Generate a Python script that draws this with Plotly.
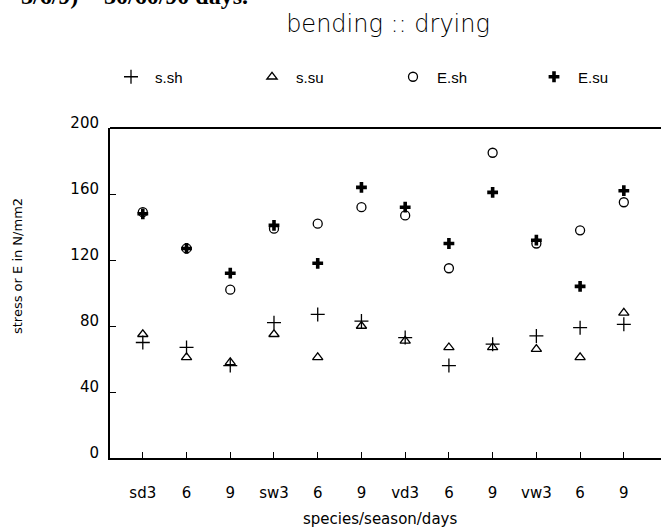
import plotly.graph_objects as go

categories = ["sd3", "6", "9", "sw3", "6 ", "9 ", "vd3", "6  ", "9  ", "vw3", "6   ", "9   "]
tick_labels = ["sd3", "6", "9", "sw3", "6", "9", "vd3", "6", "9", "vw3", "6", "9"]
s_sh = [70, 67, 56, 82, 87, 83, 73, 56, 69, 74, 79, 81]
s_su = [75, 61, 58, 75, 61, 80, 71, 67, 67, 66, 61, 88]
E_sh = [149, 127, 102, 139, 142, 152, 147, 115, 185, 130, 138, 155]
E_su = [148, 127, 112, 141, 118, 164, 152, 130, 161, 132, 104, 162]

idx = list(range(len(categories)))
font_main = "Liberation Sans, Arial, sans-serif"
font_round = "DejaVu Sans"

# layout geometry (pixels)
L, R, T, B = 110, 0, 128, 71
W, H = 661, 529
PW, PH = W - L - R, H - T - B


def px(xpix):
    return (xpix - L) / PW


def py(ypix):
    return (H - B - ypix) / PH


fig = go.Figure()
fig.add_trace(go.Scatter(x=idx, y=s_sh, mode="markers", name="s.sh",
                         marker=dict(symbol="cross-thin-open", size=10, color="black",
                                     line=dict(width=1.3, color="black"))))
fig.add_trace(go.Scatter(x=idx, y=s_su, mode="markers", name="s.su",
                         marker=dict(symbol="triangle-up-open", size=9, color="black",
                                     line=dict(width=1.3, color="black"))))
fig.add_trace(go.Scatter(x=idx, y=E_sh, mode="markers", name="E.sh",
                         marker=dict(symbol="circle-open", size=9, color="black",
                                     line=dict(width=1.3, color="black"))))
fig.add_trace(go.Scatter(x=idx, y=E_su, mode="markers", name="E.su",
                         marker=dict(symbol="cross", size=9, color="black",
                                     line=dict(width=0))))

fig.update_layout(
    width=W, height=H,
    margin=dict(l=L, r=R, t=T, b=B, autoexpand=False),
    paper_bgcolor="white", plot_bgcolor="white",
    font=dict(family=font_main, color="black", size=12),
    title=dict(text="bending :: drying", x=388 / W, xanchor="center", y=1 - 24 / H,
               yanchor="middle",
               font=dict(family=font_round, size=24, weight=300, color="black")),
    showlegend=True,
    legend=dict(orientation="h", x=px(107), xanchor="left", y=py(77),
                yanchor="middle",
                entrywidth=88, entrywidthmode="pixels", itemwidth=38,
                font=dict(size=15, family=font_main), bgcolor="rgba(0,0,0,0)"),
    xaxis=dict(range=[-0.75, 11.85], tickmode="array", tickvals=idx, ticktext=tick_labels,
               ticks="inside", ticklen=6, tickwidth=1.3, tickcolor="black",
               showline=True, linecolor="black", linewidth=2, mirror=False,
               showgrid=False, zeroline=False, ticklabelstandoff=20,
               tickfont=dict(size=15, family=font_round)),
    yaxis=dict(range=[0, 200], tickmode="array", tickvals=[0, 40, 80, 120, 160, 200],
               ticks="inside", ticklen=6, tickwidth=1.3, tickcolor="black",
               showline=True, linecolor="black", linewidth=2, mirror=False,
               showgrid=False, zeroline=False, ticklabelstandoff=6, ticklabelshift=-5,
               tickfont=dict(size=15, family=font_round)),
)

# top frame line
fig.add_shape(type="line", xref="paper", yref="paper", x0=0, x1=1, y0=1, y1=1,
              line=dict(color="black", width=2))

# axis titles (placed as in the reference)
fig.add_annotation(text="stress or E in N/mm2", xref="paper", yref="paper",
                   x=px(17), y=py(266), xanchor="center", yanchor="middle",
                   textangle=-90, showarrow=False,
                   font=dict(family=font_round, size=13, color="black"))
fig.add_annotation(text="species/season/days", xref="paper", yref="paper",
                   x=px(380), y=py(519), xanchor="center", yanchor="middle",
                   showarrow=False,
                   font=dict(family=font_round, size=15, color="black"))

# clipped caption from the scanned page
fig.add_annotation(text="<b>3/6/9) = 30/60/90 days.</b>", xref="paper", yref="paper",
                   x=px(250), xanchor="right", y=py(-4),
                   yanchor="middle", showarrow=False,
                   font=dict(family="Liberation Serif", size=24, color="black"))

fig.write_html("out.html")
